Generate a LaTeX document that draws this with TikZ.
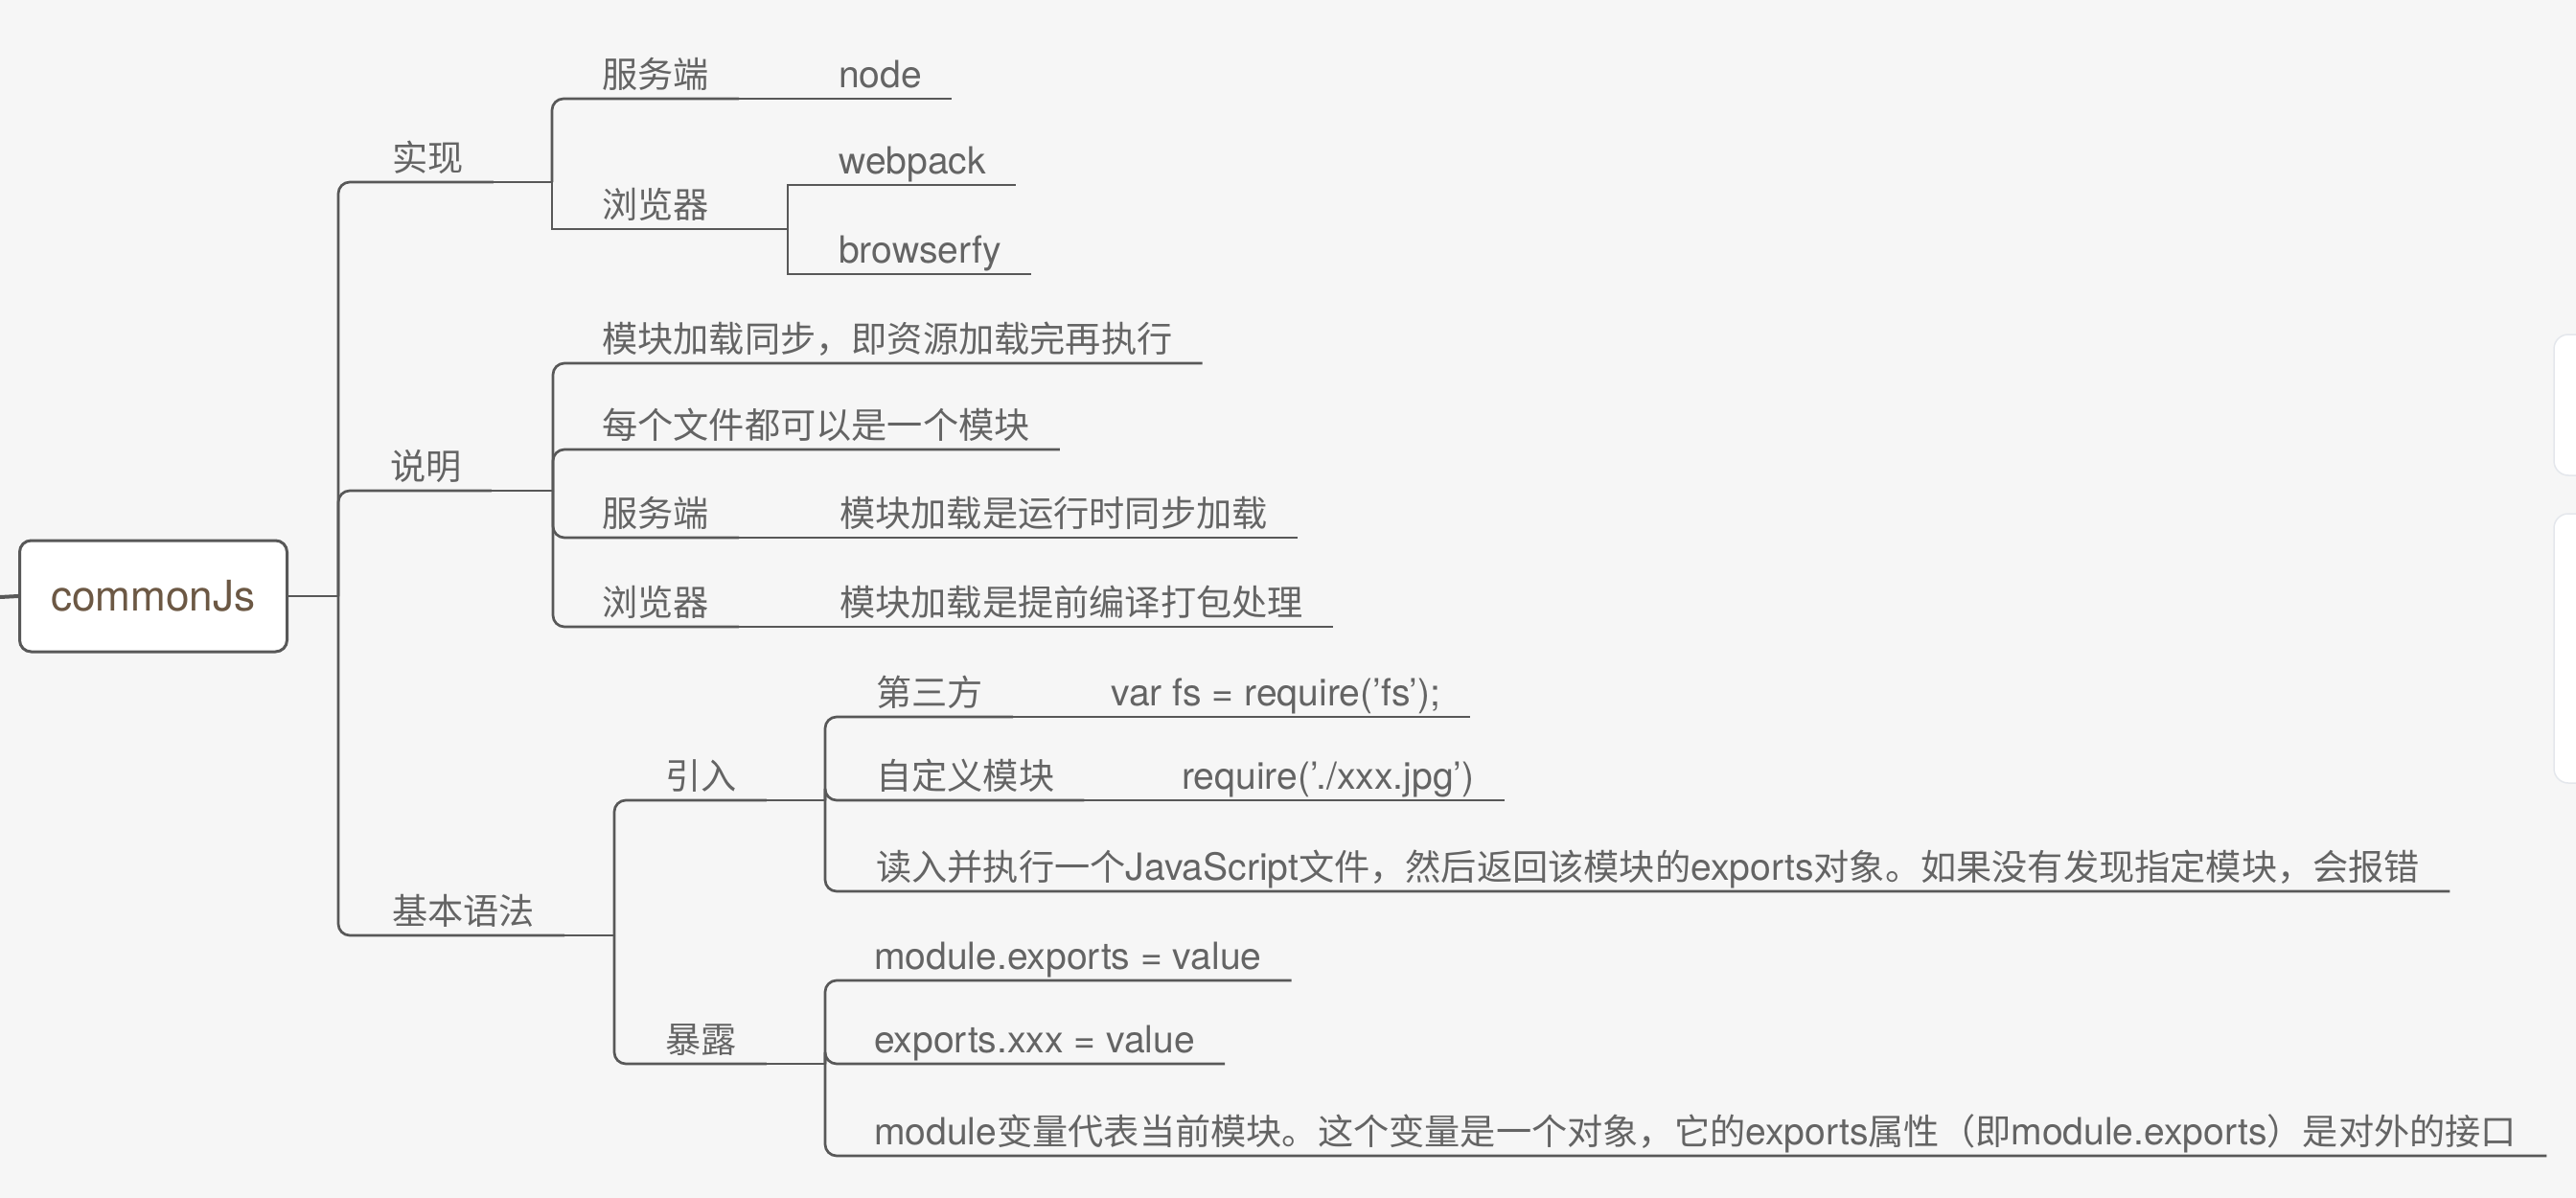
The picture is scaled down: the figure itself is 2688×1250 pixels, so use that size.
\documentclass[tikz,border=0pt]{standalone}
\usepackage{fontspec}
\setmainfont{Noto Sans CJK SC}
\newfontfamily\enfont{TeX Gyre Heros}[Scale=1.05]
\usetikzlibrary{positioning}
\definecolor{bgpaper}{RGB}{246, 246, 246}
\definecolor{linegray}{RGB}{88, 88, 88}
\definecolor{textgray}{RGB}{100, 100, 100}
\definecolor{rootbrown}{RGB}{108, 88, 68}
\definecolor{paneledge}{RGB}{228, 231, 236}
\newcommand{\en}[1]{{\enfont #1}}

\begin{document}
\begin{tikzpicture}[
  x=1pt, y=-1pt,
  topic/.style={anchor=south west, inner xsep=31pt, inner ysep=11pt,
    text height=28pt, text depth=0pt, text=textgray,
    font=\fontsize{37.2}{40}\selectfont},
  rootbox/.style={rectangle, rounded corners=12pt, draw=linegray, line width=3pt,
    fill=white, minimum width=279pt, minimum height=116pt, text=rootbrown,
    font=\fontsize{42}{46}\selectfont},
  conn/.style={draw=linegray, line width=2.7pt, rounded corners=12pt}
]
  \useasboundingbox (0, 0) rectangle (2688, 1250);
  \fill[bgpaper] (0, 0) rectangle (2688, 1250);

  % Side panels
  \filldraw[fill=white, draw=paneledge, line width=1.5pt, rounded corners=15pt] (2665, 349) rectangle (2730, 496);
  \filldraw[fill=white, draw=paneledge, line width=1.5pt, rounded corners=15pt] (2665, 536) rectangle (2730, 817);

  % Root
  \node[rootbox] (root) at (160, 622) {\en{commonJs}};
  \coordinate (offleft) at (0, 623);
  \coordinate (jroot) at (353, 622);
  \draw[conn, line width=4pt] (offleft) -- (root.west);
  \draw[conn] (root.east) -- (jroot);

  % Main branches
  \node[topic] (impl) at (378, 190) {实现};
  \node[topic] (desc) at (376, 512) {说明};
  \node[topic] (syn) at (378, 976) {基本语法};
  \foreach \n in {impl, desc, syn} {
    \draw[conn] (jroot) |- (\n.south east);
  }

  % Implementation
  \node[topic] (srvA) at (597, 103) {服务端};
  \node[topic] (brwA) at (597, 239) {浏览器};
  \node[topic] (nodeA) at (844, 103) {\en{node}};
  \node[topic] (wpk) at (844, 193) {\en{webpack}};
  \node[topic] (bfy) at (844, 286) {\en{browserfy}};
  \coordinate (jimpl) at (576, 190);
  \coordinate (jbrw) at (822, 239);
  \draw[conn] (impl.south east) -- (jimpl);
  \draw[conn] (jimpl) |- (srvA.south east);
  \draw[conn, sharp corners] (jimpl) |- (brwA.south east);
  \draw[conn] (srvA.south east) -- (nodeA.south east);
  \draw[conn] (brwA.south east) -- (jbrw);
  \foreach \c in {wpk, bfy} {
    \draw[conn, sharp corners] (jbrw) |- (\c.south east);
  }

  % Description
  \node[topic] (d1) at (597, 379) {模块加载同步，即资源加载完再执行};
  \node[topic] (d2) at (597, 469) {每个文件都可以是一个模块};
  \node[topic] (d3) at (597, 561) {服务端};
  \node[topic] (d4) at (597, 654) {浏览器};
  \node[topic] (d3c) at (845, 561) {模块加载是运行时同步加载};
  \node[topic] (d4c) at (845, 654) {模块加载是提前编译打包处理};
  \coordinate (jdesc) at (577, 512);
  \draw[conn] (desc.south east) -- (jdesc);
  \foreach \c in {d1, d2, d3, d4} {
    \draw[conn] (jdesc) |- (\c.south east);
  }
  \draw[conn] (d3.south east) -- (d3c.south east);
  \draw[conn] (d4.south east) -- (d4c.south east);

  % Syntax
  \node[topic] (imp) at (663, 835) {引入};
  \node[topic] (exp) at (663, 1110) {暴露};
  \coordinate (jsyn) at (641, 976);
  \draw[conn] (syn.south east) -- (jsyn);
  \foreach \c in {imp, exp} {
    \draw[conn] (jsyn) |- (\c.south east);
  }

  % Import
  \node[topic] (i1) at (883, 748) {第三方};
  \node[topic] (i1c) at (1128, 748) {\en{var fs = require(’fs’);}};
  \node[topic] (i2) at (883, 835) {自定义模块};
  \node[topic] (i2c) at (1202, 835) {\en{require(’./xxx.jpg’)}};
  \node[topic] (i3) at (883, 930) {读入并执行一个\en{JavaScript}文件，然后返回该模块的\en{exports}对象。如果没有发现指定模块，会报错};
  \coordinate (jimp) at (861, 835);
  \draw[conn] (imp.south east) -- (jimp);
  \foreach \c in {i1, i2, i3} {
    \draw[conn] (jimp) |- (\c.south east);
  }
  \draw[conn] (i1.south east) -- (i1c.south east);
  \draw[conn] (i2.south east) -- (i2c.south east);

  % Export
  \node[topic] (e1) at (881, 1023) {\en{module.exports = value}};
  \node[topic] (e2) at (881, 1110) {\en{exports.xxx = value}};
  \node[topic] (e3) at (881, 1206) {\en{module}变量代表当前模块。这个变量是一个对象，它的\en{exports}属性（即\en{module.exports}）是对外的接口};
  \coordinate (jexp) at (861, 1110);
  \draw[conn] (exp.south east) -- (jexp);
  \foreach \c in {e1, e2, e3} {
    \draw[conn] (jexp) |- (\c.south east);
  }
\end{tikzpicture}
\end{document}
